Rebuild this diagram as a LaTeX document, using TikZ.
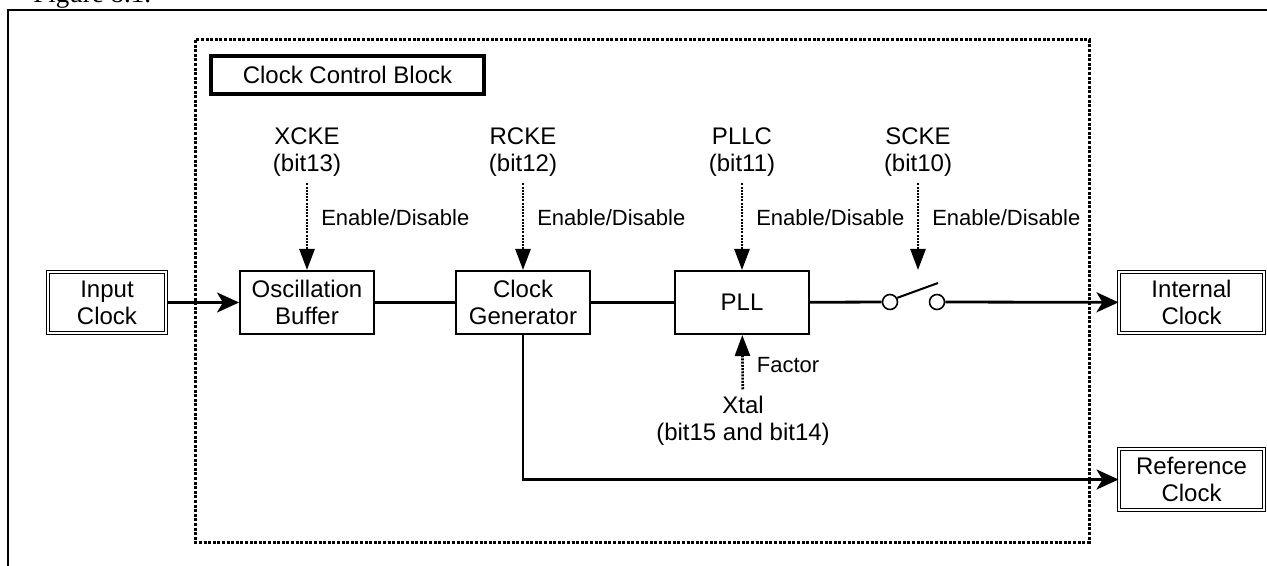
\documentclass[tikz,border=0pt]{standalone}
\usepackage{fontspec}
\setmainfont{Liberation Sans}
\newfontfamily\capfont{Liberation Serif}
\usetikzlibrary{arrows.meta}

\tikzset{
  block/.style={draw, line width=0.8pt, minimum width=67.2pt, minimum height=31.7pt,
    align=center, inner sep=2pt, font=\fontsize{12}{13.5}\selectfont},
  ioblock/.style={draw, double, line width=0.5pt, double distance=1pt,
    minimum height=30.5pt, align=center, inner sep=2pt, font=\fontsize{12}{13.5}\selectfont},
  ctrllabel/.style={align=center, font=\fontsize{12}{13.5}\selectfont},
  enlabel/.style={right=6.5pt, inner sep=0pt, font=\fontsize{11}{12}\selectfont},
  ctrlarrow/.style={line width=1.3pt, dash pattern=on 1pt off 0.6pt,
    -{Triangle[length=10.5pt,width=7.5pt]}},
  sigline/.style={line width=1.4pt},
  sigarrow/.style={sigline, -{Stealth[length=11pt,width=10pt,inset=3pt]}},
  swpin/.style={circle, draw, line width=0.8pt, fill=white, inner sep=0pt, minimum size=7.5pt},
}

\begin{document}
\begin{tikzpicture}[x=0.5pt,y=-0.5pt]
  \useasboundingbox (0,0) rectangle (1267,566);
  \clip (0,0) rectangle (1267,566);

  % caption and page frame
  \node[anchor=base west, inner sep=0pt, font=\capfont\fontsize{13.5}{14}\selectfont] (figcap) at (33,3) {Figure 8.1.};
  \draw[line width=1pt] (8,566) -- (8,10.5) -- (1267,10.5);

  % clock control block
  \draw[line width=1.5pt, dash pattern=on 1.5pt off 0.8pt] (195,40) rectangle (1089,542);
  \node[draw, line width=1.8pt, minimum width=136.7pt, minimum height=19.2pt,
        inner sep=0pt, font=\fontsize{12}{13.5}\selectfont] (ccb) at (347.5,75) {Clock Control Block};

  % blocks
  \node[ioblock, minimum width=59pt] (inclk) at (107,302.5) {Input\\Clock};
  \node[block] (oscbuf) at (307,302.5) {Oscillation\\Buffer};
  \node[block] (clkgen) at (523,302.5) {Clock\\Generator};
  \node[block] (pll) at (742,302.5) {PLL};
  \node[ioblock, minimum width=72.5pt] (intclk) at (1191.5,302.5) {Internal\\Clock};
  \node[ioblock, minimum width=72.5pt] (refclk) at (1191.5,479.5) {Reference\\Clock};

  % switch
  \node[swpin] (swl) at (890,302) {};
  \node[swpin] (swr) at (937,302) {};
  \coordinate (swend) at (938,283);
  \coordinate (swtop) at (918,270);

  % control bits
  \node[ctrllabel] (xcke) at (307,152) {XCKE\\(bit13)};
  \node[ctrllabel] (rcke) at (523,152) {RCKE\\(bit12)};
  \node[ctrllabel] (pllc) at (742,152) {PLLC\\(bit11)};
  \node[ctrllabel] (scke) at (918,152) {SCKE\\(bit10)};
  \node[ctrllabel] (xtal) at (743,421) {Xtal\\(bit15 and bit14)};

  % signal path
  \draw[sigarrow] (inclk) -- (oscbuf);
  \draw[sigline] (oscbuf) -- (clkgen);
  \draw[sigline] (clkgen) -- (pll);
  \draw[sigline] (pll) -- (swl);
  \draw[line width=1pt] (swl.30) -- (swend);
  \draw[sigarrow] (swr) -- (intclk);
  \draw[sigarrow] (clkgen.south) |- (refclk.west);

  % enable lines
  \draw[ctrlarrow] (xcke) -- node[enlabel, pos=0.4] {Enable/Disable} (oscbuf);
  \draw[ctrlarrow] (rcke) -- node[enlabel, pos=0.4] {Enable/Disable} (clkgen);
  \draw[ctrlarrow] (pllc) -- node[enlabel, pos=0.4] {Enable/Disable} (pll);
  \draw[ctrlarrow] (scke) -- node[enlabel, pos=0.4] {Enable/Disable} (swtop);
  \draw[ctrlarrow] (xtal) -- node[enlabel, pos=0.45] {Factor} (pll);
\end{tikzpicture}
\end{document}
